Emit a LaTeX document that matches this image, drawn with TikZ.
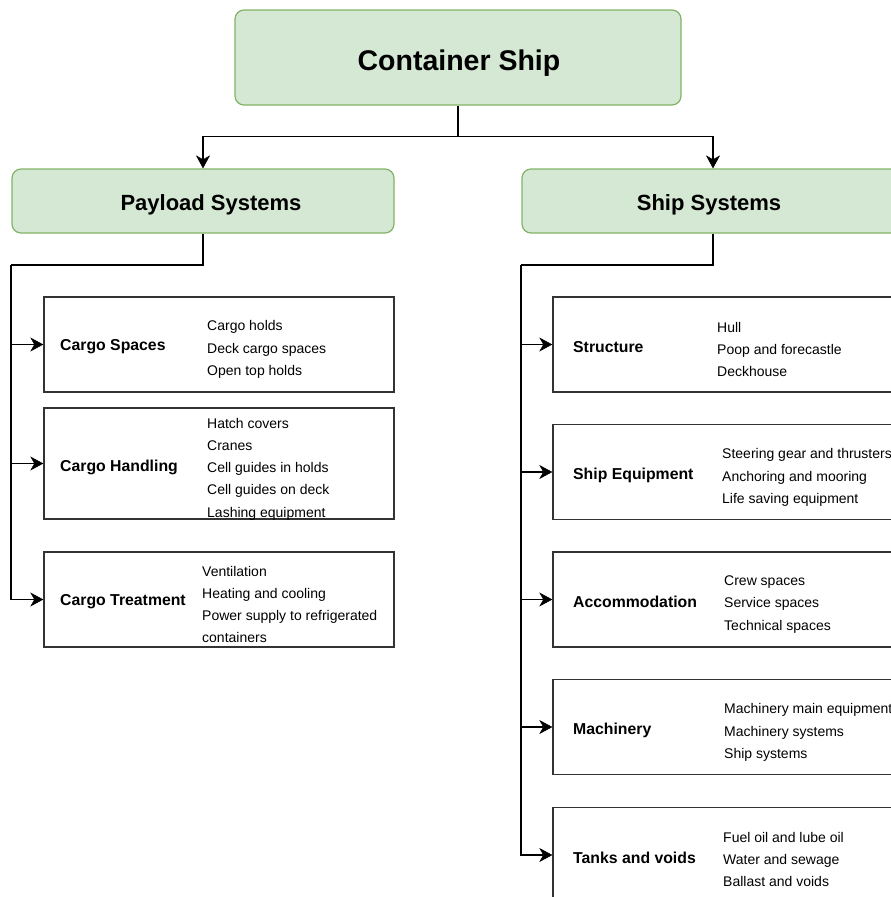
\documentclass[tikz,border=0pt]{standalone}
\usepackage{fontspec}
\setmainfont{Liberation Sans}
\usetikzlibrary{arrows.meta}
\definecolor{greenfill}{HTML}{D5E8D4}
\definecolor{greenline}{HTML}{82B366}
\definecolor{boxline}{HTML}{333333}
\tikzset{
  headbox/.style={draw=greenline, fill=greenfill, line width=1.2pt, rounded corners=9pt},
  itembox/.style={draw=boxline, line width=1.4pt, minimum height=95pt},
  link/.style={draw=black, line width=1.5pt},
  arr/.style={link, -{Stealth[length=13pt,width=14pt,inset=4pt,line width=0.5pt]}},
  grouplabel/.style={anchor=west, inner sep=0pt, font=\fontsize{15.8}{18}\selectfont\bfseries},
  itemlist/.style={anchor=west, inner sep=0pt, align=left, font=\fontsize{14}{22.3}\selectfont}
}
\begin{document}
\begin{tikzpicture}[x=1pt, y=-1pt]
\useasboundingbox (0,0) rectangle (891,897);
\clip (0,0) rectangle (891,897);

% top level
\node[headbox, minimum width=446pt, minimum height=95pt] (ship) at (458,57.5) {};
\node[font=\fontsize{28.5}{32}\selectfont\bfseries] (shipT) at (459,63) {Container Ship};

% second level
\node[headbox, minimum width=382pt, minimum height=64pt] (pay) at (203,201) {};
\node[font=\fontsize{22}{26}\selectfont\bfseries] (payT) at (211,205) {Payload Systems};
\node[headbox, minimum width=382pt, minimum height=64pt] (sys) at (713,201) {};
\node[font=\fontsize{22}{26}\selectfont\bfseries] (sysT) at (709,205) {Ship Systems};

\draw[arr] (ship.south) -- ++(0,31) coordinate (split) -| (pay.north);
\draw[arr] (split) -| (sys.north);

% payload systems branch
\node[itembox, minimum width=350pt] (cs) at (219,344.5) {};
\node[itembox, minimum width=350pt, minimum height=111pt] (ch) at (219,463.5) {};
\node[itembox, minimum width=350pt] (ct) at (219,599.5) {};

\node[grouplabel] (csL) at (60,347) {Cargo Spaces};
\node[itemlist] (csI) at (207,349.5) {Cargo holds\\Deck cargo spaces\\Open top holds};
\node[grouplabel] (chL) at (60,467) {Cargo Handling};
\node[itemlist] (chI) at (207,469) {Hatch covers\\Cranes\\Cell guides in holds\\Cell guides on deck\\Lashing equipment};
\node[grouplabel] (ctL) at (60,602) {Cargo Treatment};
\node[itemlist] (ctI) at (202,604.5) {Ventilation\\Heating and cooling\\Power supply to refrigerated\\containers};

\coordinate (pbus) at (11,265);
\draw[link] (pay.south) |- (pbus);
\draw[arr] (pbus) |- (cs.west);
\draw[arr] (pbus) |- (ch.west);
\draw[arr] (pbus) |- (ct.west);

% ship systems branch
\node[itembox, minimum width=350pt] (st) at (728,344.5) {};
\node[itembox, minimum width=350pt] (se) at (728,472) {};
\node[itembox, minimum width=350pt] (ac) at (728,599.5) {};
\node[itembox, minimum width=350pt] (ma) at (728,727) {};
\node[itembox, minimum width=350pt] (tv) at (728,855) {};

\node[grouplabel] (stL) at (573,347) {Structure};
\node[itemlist] (stI) at (717,349.5) {Hull\\Poop and forecastle\\Deckhouse};
\node[grouplabel] (seL) at (573,475) {Ship Equipment};
\node[itemlist] (seI) at (722,477.5) {Steering gear and thrusters\\Anchoring and mooring\\Life saving equipment};
\node[grouplabel] (acL) at (573,602) {Accommodation};
\node[itemlist] (acI) at (724,604.5) {Crew spaces\\Service spaces\\Technical spaces};
\node[grouplabel] (maL) at (573,730) {Machinery};
\node[itemlist] (maI) at (724,732.5) {Machinery main equipment\\Machinery systems\\Ship systems};
\node[grouplabel] (tvL) at (573,858) {Tanks and voids};
\node[itemlist] (tvI) at (723,859.5) {Fuel oil and lube oil\\Water and sewage\\Ballast and voids};

\coordinate (sbus) at (521,265);
\draw[link] (sys.south) |- (sbus);
\draw[arr] (sbus) |- (st.west);
\draw[arr] (sbus) |- (se.west);
\draw[arr] (sbus) |- (ac.west);
\draw[arr] (sbus) |- (ma.west);
\draw[arr] (sbus) |- (tv.west);
\end{tikzpicture}
\end{document}
